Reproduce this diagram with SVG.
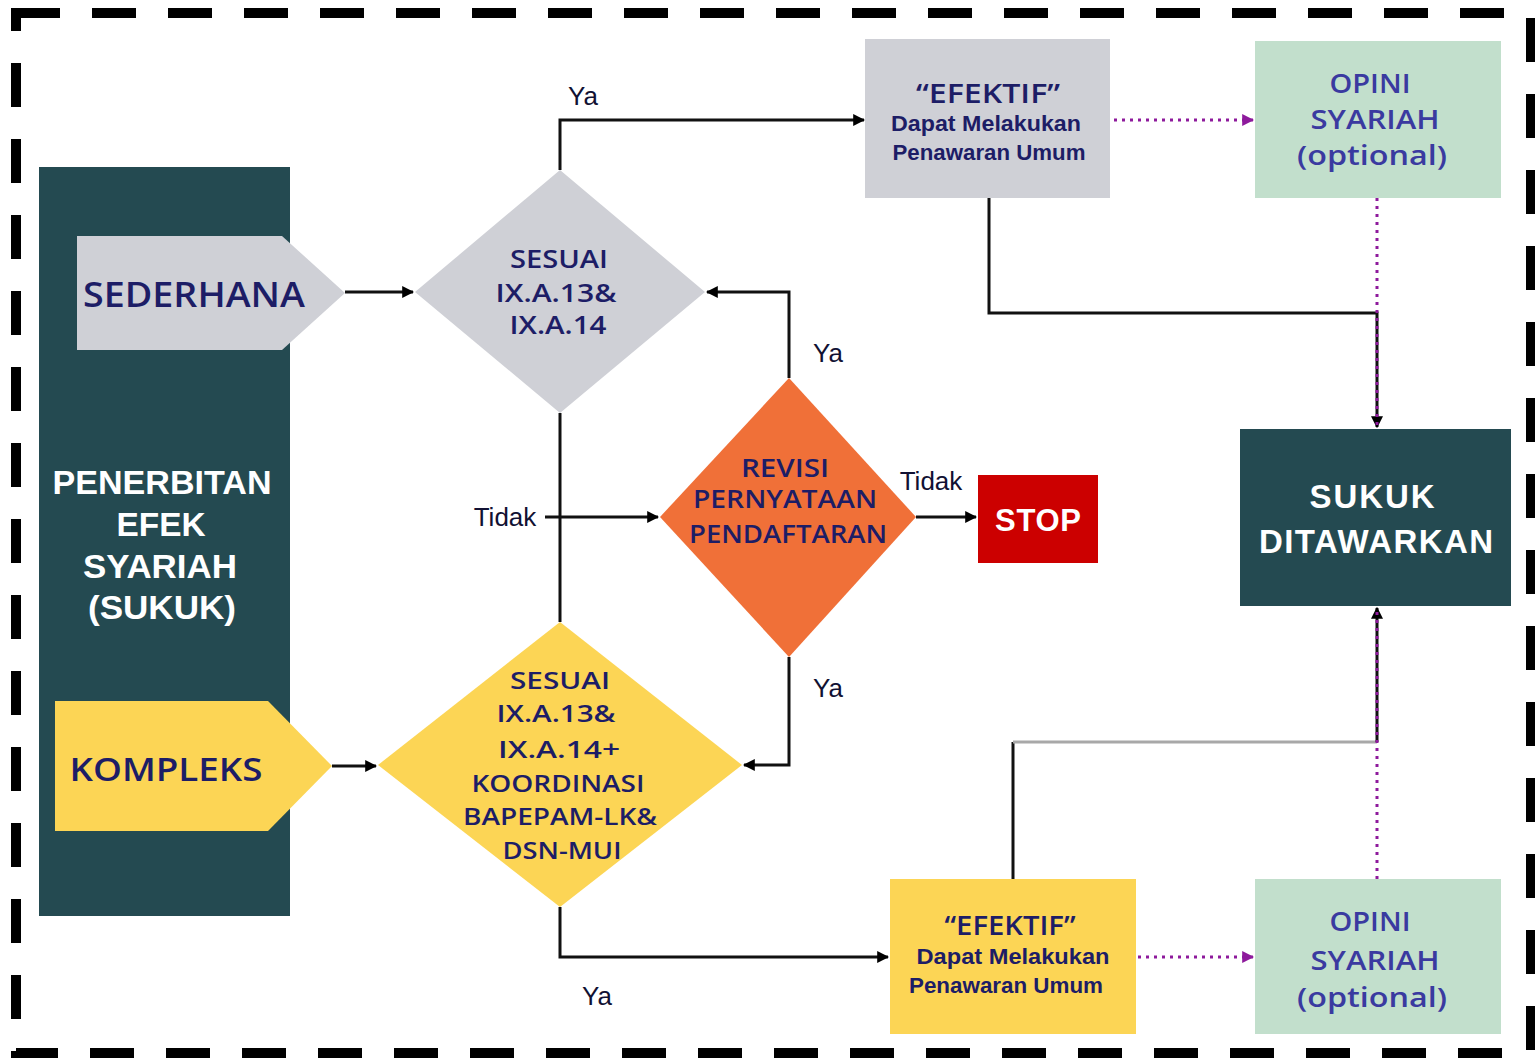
<svg xmlns="http://www.w3.org/2000/svg" width="1535" height="1058" viewBox="0 0 1535 1058">
  <defs>
    <marker id="arrowBlk" viewBox="0 0 10 10" refX="9" refY="5" markerWidth="12" markerHeight="12" orient="auto" markerUnits="userSpaceOnUse">
      <path d="M0,0 L10,5 L0,10 z" fill="#000"/>
    </marker>
    <marker id="arrowPur" viewBox="0 0 10 10" refX="9" refY="5" markerWidth="12" markerHeight="12" orient="auto" markerUnits="userSpaceOnUse">
      <path d="M0,0 L10,5 L0,10 z" fill="#8e1a9c"/>
    </marker>
  </defs>
  <style>
    .frame { fill: none; stroke: #000; stroke-width: 10; stroke-dasharray: 44 32; }
    .panel { fill: #244a51; }
    .grey { fill: #cfd0d6; }
    .yellow { fill: #fcd555; }
    .orange { fill: #f07038; }
    .green { fill: #c2dfcc; }
    .red { fill: #cc0000; }
    .t { font-family: "Liberation Sans", Arial, sans-serif; text-anchor: middle; }
    .s { font-family: "Open Sans", "Liberation Sans", sans-serif; font-weight: 600; text-anchor: middle; }
    .navy { fill: #1d1d66; }
    .blue { fill: #3a3aa0; }
    .white { fill: #ffffff; }
    .b { font-weight: bold; }
    .lbl { font-family: "Liberation Sans", Arial, sans-serif; font-size: 26px; fill: #111133; text-anchor: middle; }
    .line { fill: none; stroke: #111; stroke-width: 3; }
    .lineGrey { fill: none; stroke: #a8a8a8; stroke-width: 3; }
    .dots { fill: none; stroke: #8e1a9c; stroke-width: 3; stroke-dasharray: 3 5; }
  </style>

  <rect width="1535" height="1058" fill="#ffffff"/>
  <rect class="frame" x="16" y="13" width="1515" height="1040"/>

  <!-- left column: issuance of sharia securities -->
  <g id="panel-penerbitan">
    <rect class="panel" x="39" y="167" width="251" height="749"/>
    <text class="t b white" font-size="34"><tspan x="162" y="494" textLength="219" lengthAdjust="spacingAndGlyphs">PENERBITAN</tspan><tspan x="161" y="536" textLength="89" lengthAdjust="spacingAndGlyphs">EFEK</tspan><tspan x="160" y="578" textLength="154" lengthAdjust="spacingAndGlyphs">SYARIAH</tspan><tspan x="162" y="619" textLength="148" lengthAdjust="spacingAndGlyphs">(SUKUK)</tspan></text>
  </g>

  <g id="node-sederhana">
    <path class="grey" d="M77,236 H282 L345,293 L282,350 H77 Z"/>
    <text class="s navy" font-size="34" x="194" y="307" textLength="222" lengthAdjust="spacingAndGlyphs">SEDERHANA</text>
  </g>

  <g id="node-kompleks">
    <path class="yellow" d="M55,701 H268 L332,766 L268,831 H55 Z"/>
    <text class="s navy" font-size="33" x="166" y="781" textLength="193" lengthAdjust="spacingAndGlyphs">KOMPLEKS</text>
  </g>

  <g id="node-sesuai-sederhana">
    <path class="grey" d="M560,170 L705,292 L560,413 L415,292 Z"/>
    <text class="s navy" font-size="25"><tspan x="559" y="268" textLength="98" lengthAdjust="spacingAndGlyphs">SESUAI</tspan><tspan x="556" y="302" textLength="121" lengthAdjust="spacingAndGlyphs">IX.A.13&amp;</tspan><tspan x="558" y="334" textLength="97" lengthAdjust="spacingAndGlyphs">IX.A.14</tspan></text>
  </g>

  <g id="node-revisi">
    <path class="orange" d="M789,378 L916,517 L789,657 L660,517 Z"/>
    <text class="s navy" font-size="25"><tspan x="785" y="477" textLength="88" lengthAdjust="spacingAndGlyphs">REVISI</tspan><tspan x="785" y="508" textLength="184" lengthAdjust="spacingAndGlyphs">PERNYATAAN</tspan><tspan x="788" y="543" textLength="198" lengthAdjust="spacingAndGlyphs">PENDAFTARAN</tspan></text>
  </g>

  <g id="node-sesuai-kompleks">
    <path class="yellow" d="M560,622 L742,765 L560,907 L378,765 Z"/>
    <text class="s navy" font-size="24"><tspan x="560" y="689" textLength="100" lengthAdjust="spacingAndGlyphs">SESUAI</tspan><tspan x="556" y="722" textLength="119" lengthAdjust="spacingAndGlyphs">IX.A.13&amp;</tspan><tspan x="559" y="758" textLength="122" lengthAdjust="spacingAndGlyphs">IX.A.14+</tspan><tspan x="558" y="792" textLength="173" lengthAdjust="spacingAndGlyphs">KOORDINASI</tspan><tspan x="560" y="825" textLength="194" lengthAdjust="spacingAndGlyphs">BAPEPAM-LK&amp;</tspan><tspan x="562" y="859" textLength="119" lengthAdjust="spacingAndGlyphs">DSN-MUI</tspan></text>
  </g>

  <g id="node-stop">
    <rect class="red" x="978" y="475" width="120" height="88"/>
    <text class="t b white" font-size="31" x="1038" y="531" textLength="86" lengthAdjust="spacing">STOP</text>
  </g>

  <g id="node-efektif-atas">
    <rect class="grey" x="865" y="39" width="245" height="159"/>
    <text class="s navy" font-size="27" x="988" y="103" textLength="144" lengthAdjust="spacingAndGlyphs">“EFEKTIF”</text>
    <text class="t navy b" font-size="22"><tspan x="986" y="131" textLength="190" lengthAdjust="spacingAndGlyphs">Dapat Melakukan</tspan><tspan x="989" y="160" textLength="193" lengthAdjust="spacingAndGlyphs">Penawaran Umum</tspan></text>
  </g>

  <g id="node-opini-atas">
    <rect class="green" x="1255" y="41" width="246" height="157"/>
    <text class="s blue" font-size="27"><tspan x="1370" y="93" textLength="81" lengthAdjust="spacingAndGlyphs">OPINI</tspan><tspan x="1375" y="129" textLength="129" lengthAdjust="spacingAndGlyphs">SYARIAH</tspan><tspan x="1372" y="165" textLength="150" lengthAdjust="spacingAndGlyphs">(optional)</tspan></text>
  </g>

  <g id="node-sukuk-ditawarkan">
    <rect class="panel" x="1240" y="429" width="271" height="177"/>
    <text class="t b white" font-size="33"><tspan x="1372" y="508" textLength="125" lengthAdjust="spacing">SUKUK</tspan><tspan x="1376" y="553" textLength="234" lengthAdjust="spacing">DITAWARKAN</tspan></text>
  </g>

  <g id="node-efektif-bawah">
    <rect class="yellow" x="890" y="879" width="246" height="155"/>
    <text class="s navy" font-size="27" x="1010" y="935" textLength="131" lengthAdjust="spacingAndGlyphs">“EFEKTIF”</text>
    <text class="t navy b" font-size="22"><tspan x="1013" y="964" textLength="193" lengthAdjust="spacingAndGlyphs">Dapat Melakukan</tspan><tspan x="1006" y="993" textLength="194" lengthAdjust="spacingAndGlyphs">Penawaran Umum</tspan></text>
  </g>

  <g id="node-opini-bawah">
    <rect class="green" x="1255" y="879" width="246" height="155"/>
    <text class="s blue" font-size="27"><tspan x="1370" y="931" textLength="81" lengthAdjust="spacingAndGlyphs">OPINI</tspan><tspan x="1375" y="970" textLength="129" lengthAdjust="spacingAndGlyphs">SYARIAH</tspan><tspan x="1372" y="1007" textLength="150" lengthAdjust="spacingAndGlyphs">(optional)</tspan></text>
  </g>

  <g id="connectors">
    <path class="line" d="M345,292 H413" stroke-width="4" marker-end="url(#arrowBlk)"/>
    <path class="line" d="M332,766 H376" stroke-width="2.5" marker-end="url(#arrowBlk)"/>
    <path class="line" d="M560,170 V120 H864" stroke-width="2.5" marker-end="url(#arrowBlk)"/>
    <path class="line" d="M560,413 V622" stroke-width="2.5" stroke="#333"/>
    <path class="line" d="M545,517 H658" stroke-width="2.5" marker-end="url(#arrowBlk)"/>
    <path class="line" d="M789,378 V292 H707" stroke-width="3.5" marker-end="url(#arrowBlk)"/>
    <path class="line" d="M789,657 V765 H744" stroke-width="3" marker-end="url(#arrowBlk)"/>
    <path class="line" d="M916,517 H976" stroke-width="2.5" marker-end="url(#arrowBlk)"/>
    <path class="line" d="M560,907 V957 H888" stroke-width="3" marker-end="url(#arrowBlk)"/>
    <path class="line" d="M989,198 V313 H1377 V427" stroke-width="2.5" marker-end="url(#arrowBlk)"/>
    <path class="dots" d="M1377,198 V425"/>
    <path class="line" d="M1013,879 V742" stroke-width="3"/>
    <path class="lineGrey" d="M1013,742 H1377"/>
    <path class="line" d="M1377,742 V608" stroke-width="2.5" marker-end="url(#arrowBlk)"/>
    <path class="dots" d="M1377,879 V612"/>
    <path class="dots" d="M1114,120 H1253" marker-end="url(#arrowPur)"/>
    <path class="dots" d="M1138,957 H1253" marker-end="url(#arrowPur)"/>

    <text class="lbl" x="583" y="105">Ya</text>
    <text class="lbl" x="828" y="362">Ya</text>
    <text class="lbl" x="828" y="697">Ya</text>
    <text class="lbl" x="597" y="1005">Ya</text>
    <text class="lbl" x="505" y="526">Tidak</text>
    <text class="lbl" x="931" y="490">Tidak</text>
  </g>
</svg>
